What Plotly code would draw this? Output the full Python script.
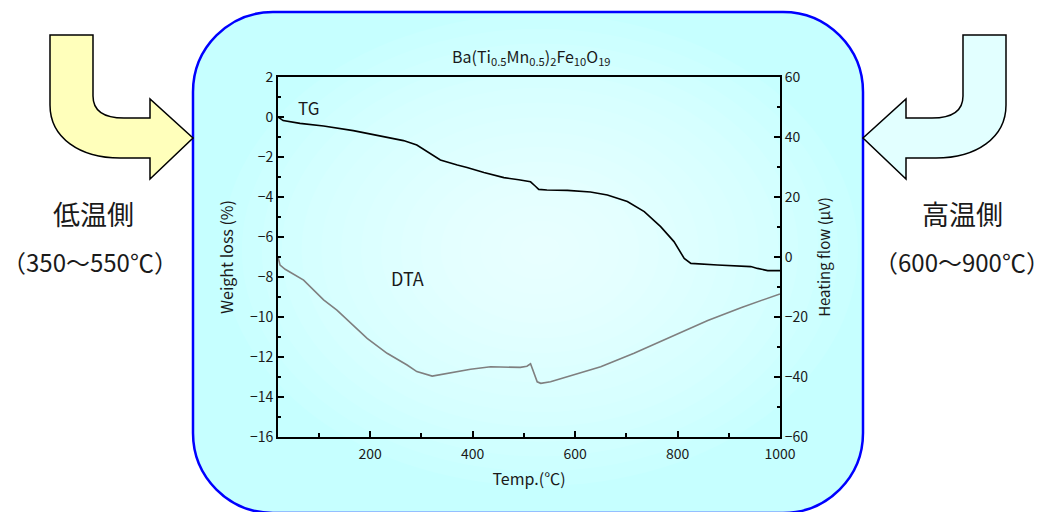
import plotly.graph_objects as go

# ---------------- data ----------------
tg_temp = [20, 30, 63, 109, 167, 220, 265, 291, 311, 337, 370, 389, 422, 461, 490,
           513, 522, 529, 545, 585, 630, 663, 702, 735, 767, 793, 813, 826, 878,
           943, 956, 976, 1000]
tg_weight = [0.0, -0.18, -0.32, -0.45, -0.68, -0.93, -1.18, -1.4, -1.73, -2.15, -2.4,
             -2.52, -2.78, -3.03, -3.14, -3.24, -3.45, -3.62, -3.65, -3.67, -3.75,
             -3.9, -4.23, -4.73, -5.48, -6.23, -7.07, -7.32, -7.4, -7.48, -7.57,
             -7.68, -7.68]

dta_temp = [20, 24, 34, 70, 109, 135, 194, 233, 272, 291, 321, 350, 396, 435, 470,
            493, 506, 513, 526, 533, 552, 591, 650, 715, 800, 859, 925, 1000]
dta_flow = [0.0, -2.7, -4.1, -7.7, -14.3, -17.7, -27.1, -32.1, -36.0, -38.2, -39.7,
            -38.8, -37.4, -36.6, -36.7, -36.8, -36.4, -35.6, -41.6, -42.1, -41.6,
            -39.7, -36.6, -32.1, -25.7, -21.2, -16.8, -12.3]

title_text = "Ba(Ti<sub>0.5</sub>Mn<sub>0.5</sub>)<sub>2</sub>Fe<sub>10</sub>O<sub>19</sub>"
x_title = "Temp.(℃)"
y_title = "Weight loss (%)"
y2_title = "Heating flow (μV)"
left_label = ["低温側", "（350～550℃）"]
right_label = ["高温側", "（600～900℃）"]
curve_labels = ["TG", "DTA"]

# ---------------- layout geometry ----------------
W, H = 1050, 512
L, R, T, B = 278, 780, 77, 437
FONT = "Noto Sans CJK JP, Liberation Sans, sans-serif"
TXT = "#1a1a1a"


def px(x):
    return (x - L) / (R - L)


def py(y):
    return (B - y) / (B - T)


def path(cmds):
    out = []
    for c in cmds:
        op, pts = c[0], c[1:]
        seg = op + " " + " ".join(f"{px(a):.5f},{py(b):.5f}" for a, b in pts)
        out.append(seg)
    return " ".join(out) + " Z"


def mirror(cmds, axis=1056):
    return [(c[0],) + tuple((axis - a, b) for a, b in c[1:]) for c in cmds]


# rounded box
bl, br, bt, bb, r = 193, 863, 12, 513, 80
k = 0.5523 * r
box = [
    ("M", (bl + r, bt)), ("L", (br - r, bt)),
    ("C", (br - r + k, bt), (br, bt + r - k), (br, bt + r)),
    ("L", (br, bb - r)),
    ("C", (br, bb - r + k), (br - r + k, bb), (br - r, bb)),
    ("L", (bl + r, bb)),
    ("C", (bl + r - k, bb), (bl, bb - r + k), (bl, bb - r)),
    ("L", (bl, bt + r)),
    ("C", (bl, bt + r - k), (bl + r - k, bt), (bl + r, bt)),
]

arrow = [
    ("M", (50, 35)), ("L", (93, 35)), ("L", (93, 96)),
    ("C", (93, 111), (103, 118), (124, 118)),
    ("L", (150, 118)), ("L", (150, 99)), ("L", (193, 138)), ("L", (150, 179)),
    ("L", (150, 158)), ("L", (120, 158)),
    ("C", (80, 158), (50, 138), (50, 105)),
]

shapes = [dict(type="path", xref="paper", yref="paper", path=path(box),
               fillcolor="#c6ffff", line=dict(color="#0000ff", width=2.5), layer="below")]

# soft radial lightening towards centre (emulates gradient fill)
cx, cy = 540, 250
n = 16
for i in range(n):
    f = 1 - i / n
    rx, ry = 318 * f, 236 * f
    shapes.append(dict(type="circle", xref="paper", yref="paper",
                       x0=px(cx - rx), x1=px(cx + rx), y0=py(cy + ry), y1=py(cy - ry),
                       fillcolor="white", opacity=0.07, line=dict(width=0), layer="below"))

shapes.append(dict(type="path", xref="paper", yref="paper", path=path(arrow),
                   fillcolor="#ffffbb", line=dict(color="black", width=1.5), layer="above"))
shapes.append(dict(type="path", xref="paper", yref="paper", path=path(mirror(arrow)),
                   fillcolor="#e2ffff", line=dict(color="black", width=1.5), layer="above"))

annotations = [
    dict(text=left_label[0], x=px(93), y=py(213), font=dict(size=27, color=TXT)),
    dict(text=left_label[1], x=px(90), y=py(261), font=dict(size=24, color=TXT)),
    dict(text=right_label[0], x=px(962), y=py(213), font=dict(size=27, color=TXT)),
    dict(text=right_label[1], x=px(962), y=py(261), font=dict(size=24, color=TXT)),
    dict(text=title_text, x=px(531), y=py(57), font=dict(size=16, color=TXT)),
    dict(text=curve_labels[0], x=px(308), y=py(107), font=dict(size=17, color=TXT)),
    dict(text=curve_labels[1], x=px(407), y=py(278), font=dict(size=18, color=TXT)),
]
for a in annotations:
    a.update(xref="paper", yref="paper", showarrow=False, xanchor="center", yanchor="middle")

fig = go.Figure()
fig.add_trace(go.Scatter(x=tg_temp, y=tg_weight, mode="lines", name="TG",
                         line=dict(color="black", width=1.6), yaxis="y"))
fig.add_trace(go.Scatter(x=dta_temp, y=dta_flow, mode="lines", name="DTA",
                         line=dict(color="#7f7f7f", width=1.6), yaxis="y2"))

axis_common = dict(showline=True, linecolor="black", linewidth=2, showgrid=False,
                   zeroline=False, ticks="inside", ticklen=6, tickwidth=1.5,
                   tickcolor="black", tickfont=dict(size=14, color=TXT, family=FONT))

fig.update_layout(
    width=W, height=H,
    margin=dict(l=L, r=W - R, t=T, b=H - B),
    paper_bgcolor="white", plot_bgcolor="rgba(0,0,0,0)",
    showlegend=False,
    font=dict(family=FONT, color=TXT),
    xaxis=dict(range=[20, 1000], tick0=0, dtick=200, mirror=True, ticklabelstandoff=3,
               title=dict(text=x_title, font=dict(size=16), standoff=12),
               minor=dict(dtick=100, ticks="inside", ticklen=4, tickcolor="black"),
               **axis_common),
    yaxis=dict(range=[-16, 2], dtick=2,
               title=dict(text=y_title, font=dict(size=16), standoff=12),
               minor=dict(dtick=1, ticks="inside", ticklen=3, tickcolor="black"),
               **axis_common),
    yaxis2=dict(range=[-60, 60], dtick=20, overlaying="y", side="right",
                title=dict(text=y2_title, font=dict(size=15), standoff=12),
                minor=dict(dtick=10, ticks="inside", ticklen=3, tickcolor="black"),
                **axis_common),
    shapes=shapes,
    annotations=annotations,
)

fig.write_html("out.html", config={"displayModeBar": False},
               post_script="document.body.style.margin='0';")
